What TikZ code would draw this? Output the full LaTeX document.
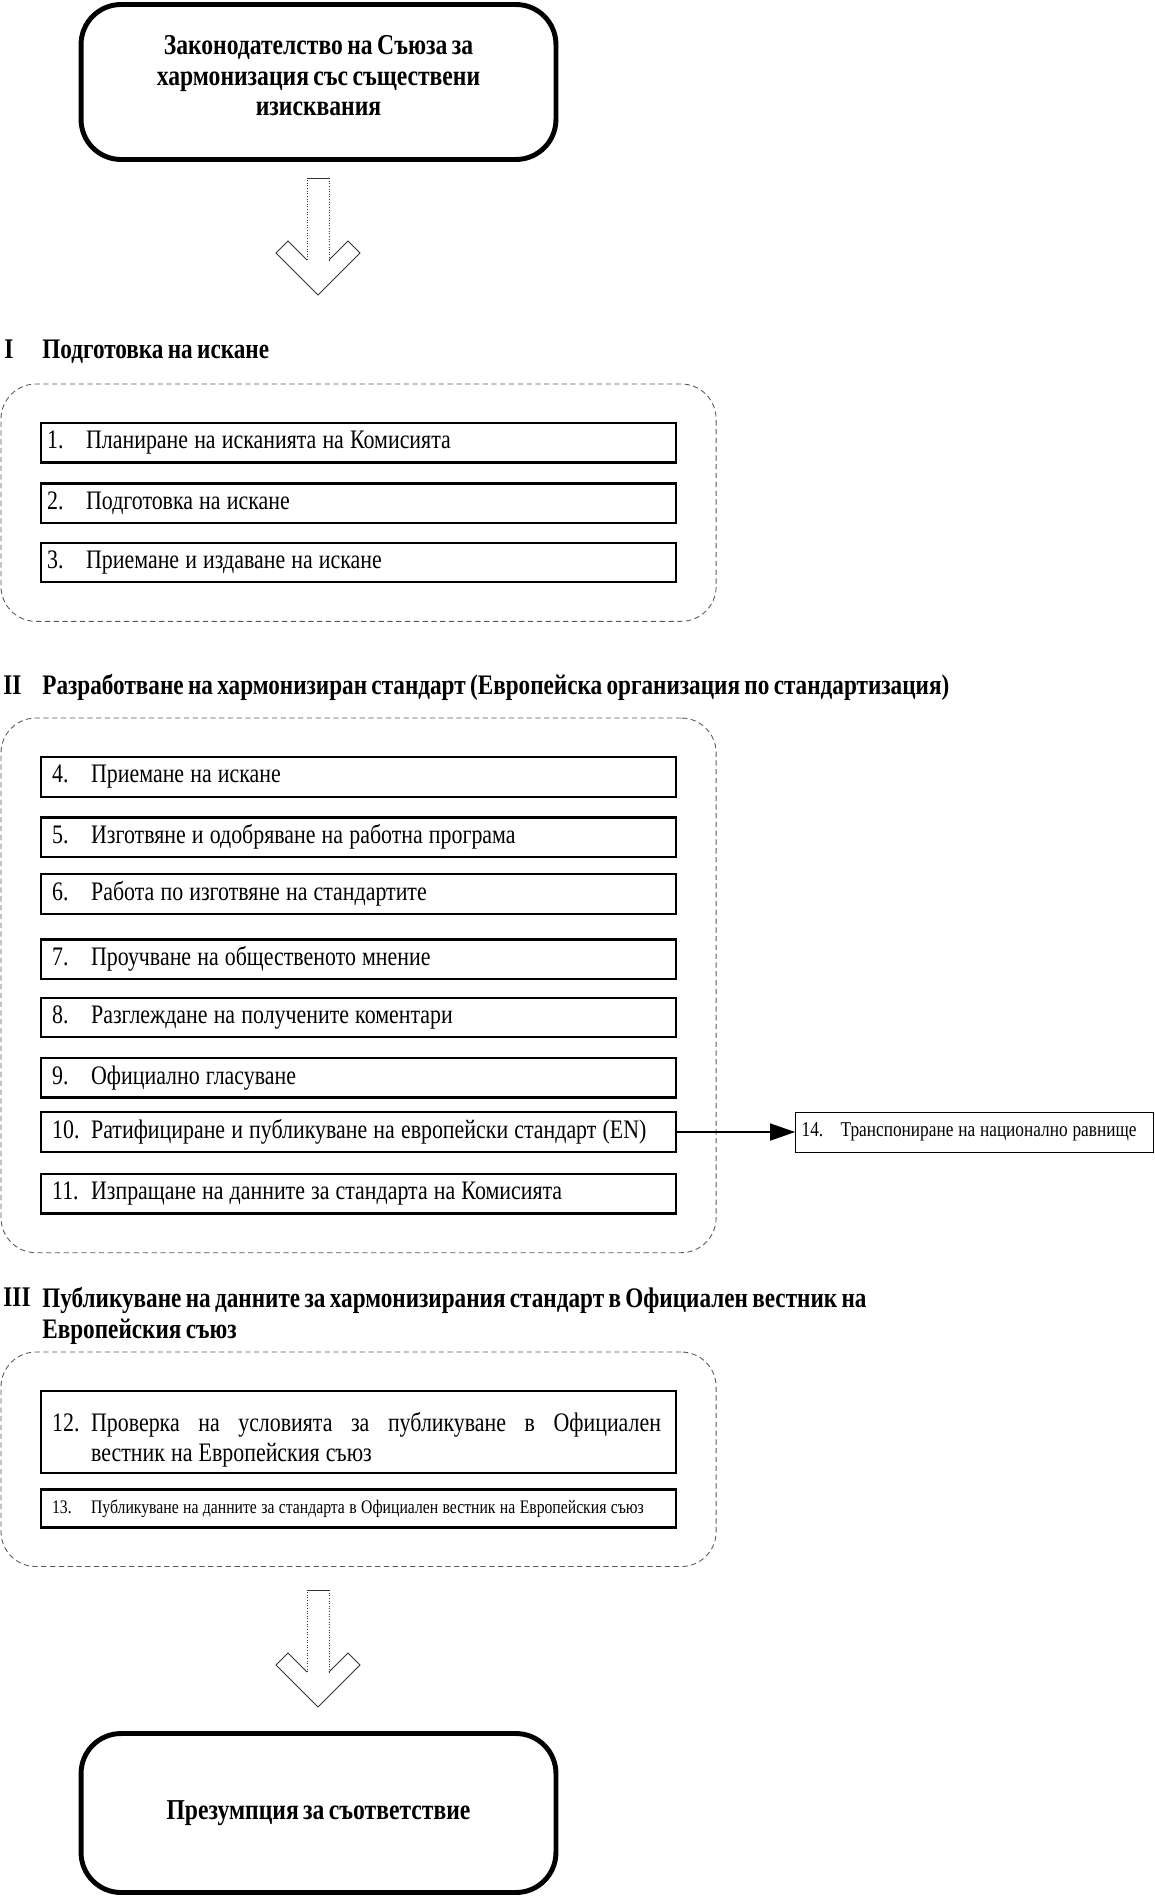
\documentclass[tikz,border=0pt]{standalone}
\usepackage{fontspec}
\setmainfont{Liberation Serif}[FakeStretch=0.82,WordSpace=0.75]
\usetikzlibrary{arrows.meta,fit,positioning}
\newcommand{\stepnum}[1]{\makebox[7.8mm][l]{#1}}
\tikzset{
  law box/.style={
    draw=black,
    line width=2.8pt,
    rounded corners=8mm,
    minimum width=9.5cm,
    minimum height=3.1cm,
    align=center,
    inner sep=0pt,
    font=\fontsize{16.4}{17.6}\selectfont\bfseries
  },
  phase frame/.style={
    draw=black!65,
    densely dashed,
    line width=0.5pt,
    rounded corners=7mm,
    inner xsep=7.8mm,
    inner ysep=7.6mm
  },
  phase num/.style={
    anchor=base west,
    inner sep=0pt,
    font=\fontsize{16.2}{17.6}\selectfont\bfseries
  },
  phase title/.style={
    anchor=base west,
    inner sep=0pt,
    align=left,
    font=\fontsize{16.1}{17.6}\selectfont\bfseries
  },
  stepbox/.style={
    draw=black,
    line width=1.3pt,
    minimum height=7.9mm,
    text width=12.26cm,
    inner xsep=2.2mm,
    inner ysep=0pt,
    align=left,
    font=\fontsize{15.2}{17}\selectfont,
    execute at begin node={\spaceskip=0.23em plus 0.1em minus 0.05em\relax}
  },
  stepbox tight/.style={
    stepbox,
    inner xsep=1.2mm,
    text width=12.46cm
  },
  side step/.style={
    draw=black,
    line width=0.6pt,
    minimum height=8mm,
    text width=6.92cm,
    inner xsep=1.2mm,
    inner ysep=0pt,
    align=left,
    font=\fontsize{12}{14}\selectfont,
    execute at begin node={\spaceskip=0.23em plus 0.1em minus 0.05em\relax}
  },
  step flow/.style={-{Triangle[length=5mm,width=3.4mm]},line width=0.8pt},
  flow outline/.style={draw=black!80,line width=0.5pt},
  pics/hollow arrow/.style={
    code={
      \draw[flow outline,densely dotted] (-11,82) -- (-11,0);
      \draw[flow outline] (-11,0) -- (11,0);
      \draw[flow outline,densely dotted] (11,0) -- (11,82);
      \draw[flow outline] (11,82) -- (30,63) -- (42,75) -- (0,117)
        -- (-42,75) -- (-30,63) -- (-11,82);
    }
  }
}

\begin{document}
\begin{tikzpicture}[x=0.02cm,y=-0.02cm]
  \useasboundingbox (0,0) rectangle (1155,1899);

  \node[law box,text depth=2.6mm] (law) at (318.5,82) {Законодателство на Съюза за\\хармонизация със съществени\\изисквания};
  \pic at (318,178) {hollow arrow};

  % I
  \node[phase num] (num1) at (4,358) {I};
  \node[phase title] (title1) at (42,358) {Подготовка на искане};
  \node[stepbox tight,anchor=north west] (s1) at (40,422) {\stepnum{1.}Планиране на исканията на Комисията};
  \node[stepbox tight,below=3.7mm of s1] (s2) {\stepnum{2.}Подготовка на искане};
  \node[stepbox tight,below=3.5mm of s2] (s3) {\stepnum{3.}Приемане и издаване на искане};
  \node[phase frame,fit=(s1)(s3)] (phase1) {};

  % II
  \node[phase num] (num2) at (3,694) {II};
  \node[phase title] (title2) at (42,694) {Разработване на хармонизиран стандарт (Европейска организация по стандартизация)};
  \node[stepbox,anchor=north west] (s4) at (40,756) {\stepnum{4.}Приемане на искане};
  \node[stepbox,below=3.7mm of s4] (s5) {\stepnum{5.}Изготвяне и одобряване на работна програма};
  \node[stepbox,below=3mm of s5] (s6) {\stepnum{6.}Работа по изготвяне на стандартите};
  \node[stepbox,below=4.7mm of s6] (s7) {\stepnum{7.}Проучване на общественото мнение};
  \node[stepbox,below=3.3mm of s7] (s8) {\stepnum{8.}Разглеждане на получените коментари};
  \node[stepbox,below=3.7mm of s8] (s9) {\stepnum{9.}Официално гласуване};
  \node[stepbox,below=2.5mm of s9] (s10) {\stepnum{10.}Ратифициране и публикуване на европейски стандарт (EN)};
  \node[stepbox,below=4mm of s10] (s11) {\stepnum{11.}Изпращане на данните за стандарта на Комисията};
  \node[phase frame,fit=(s4)(s11)] (phase2) {};
  \node[side step,right=23.6mm of s10] (s14) {\stepnum{14.}Транспониране на национално равнище};
  \draw[step flow] (s10) -- (s14);

  % III
  \node[phase num] (num3) at (3,1306) {III};
  \node[phase title,anchor=north west] (title3) at (42,1287) {Публикуване на данните за хармонизирания стандарт в Официален вестник на\\Европейския съюз};
  \node[stepbox,anchor=north west,minimum height=16.4mm,text height=7mm] (s12) at (40,1390) {\stepnum{12.}\parbox[t]{11.4cm}{\rightskip=0pt\relax Проверка на условията за публикуване в Официален\linebreak вестник на Европейския съюз}};
  \node[stepbox,minimum height=7.6mm,font=\fontsize{10.9}{12.5}\selectfont,below=2.8mm of s12] (s13) {\stepnum{13.}Публикуване на данните за стандарта в Официален вестник на Европейския съюз};
  \node[phase frame,fit=(s12)(s13)] (phase3) {};

  \pic at (318,1590) {hollow arrow};
  \node[law box,minimum height=3.18cm] (presumption) at (318.5,1813) {Презумпция за съответствие};
\end{tikzpicture}
\end{document}
